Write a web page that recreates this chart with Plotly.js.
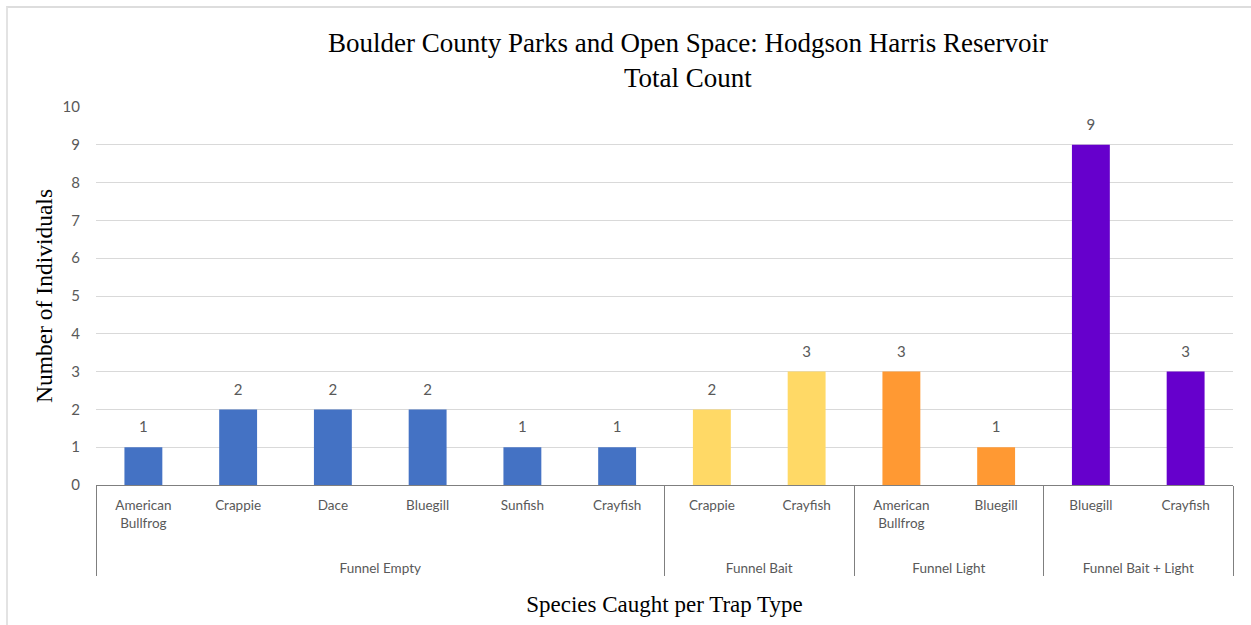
<!DOCTYPE html>
<html>
<head>
<meta charset="utf-8">
<script src="https://cdn.plot.ly/plotly-3.0.1.min.js"></script>
<style>
html,body{margin:0;padding:0;background:#fff;}
#wrap{position:relative;width:1251px;height:625px;overflow:hidden;}
#chart{width:1251px;height:625px;}
#frame{position:absolute;left:6px;top:6px;width:1300px;height:700px;border-top:2px solid #DDDDDD;border-left:2px solid #E3E3E3;pointer-events:none;}
</style>
</head>
<body>
<div id="wrap">
<div id="chart"></div>
<div id="frame"></div>
</div>
<script>
const trapTypes = ["Funnel Empty","Funnel Empty","Funnel Empty","Funnel Empty","Funnel Empty","Funnel Empty",
  "Funnel Bait","Funnel Bait","Funnel Light","Funnel Light","Funnel Bait + Light","Funnel Bait + Light"];
const species = ["American<br>Bullfrog","Crappie","Dace","Bluegill","Sunfish","Crayfish",
  "Crappie","Crayfish","American<br>Bullfrog","Bluegill","Bluegill","Crayfish"];
const counts = [1,2,2,2,1,1,2,3,3,1,9,3];
const groupColors = {"Funnel Empty":"#4472C4","Funnel Bait":"#FFD966","Funnel Light":"#FF9933","Funnel Bait + Light":"#6600CC"};
const barColors = trapTypes.map(t => groupColors[t]);

// pad species labels so the second level sits lower, as in the reference
const speciesLabels = species.map(s => s.includes("<br>") ? s + "<br>&nbsp;<br>&nbsp;" : s + "<br>&nbsp;<br>&nbsp;<br>&nbsp;");

const labelFont = "Lato, 'Open Sans', sans-serif";
const serif = "'Liberation Serif', 'Times New Roman', serif";

const bars = {
  type: "bar",
  x: [trapTypes, speciesLabels],
  y: counts,
  marker: {color: barColors},
  hoverinfo: "x+y"
};
const labels = {
  type: "scatter",
  mode: "markers+text",
  x: [trapTypes, speciesLabels],
  y: counts,
  text: counts.map(String),
  textposition: "top center",
  marker: {size: 16, color: "rgba(0,0,0,0)"},
  textfont: {family: labelFont, size: 15, color: "#595959"},
  cliponaxis: false,
  hoverinfo: "skip"
};

const layout = {
  width: 1251, height: 625,
  margin: {l: 96, r: 18, t: 107, b: 140},
  paper_bgcolor: "#fff", plot_bgcolor: "#fff",
  bargap: 0.6,
  showlegend: false,
  annotations: [{
    text: "Boulder County Parks and Open Space: Hodgson Harris Reservoir<br>Total Count",
    xref: "paper", yref: "paper", x: 0.5207, y: 1.124,
    xanchor: "center", yanchor: "middle", showarrow: false,
    font: {family: serif, size: 27, color: "#000"}
  }],
  xaxis: {
    type: "multicategory",
    range: [-0.5, 11.5], autorange: false,
    showline: true, linecolor: "#7F7F7F", linewidth: 1,
    showdividers: true, dividercolor: "#7F7F7F", dividerwidth: 1,
    ticks: "", showgrid: false,
    ticklabelstandoff: 8,
    tickfont: {family: labelFont, size: 13.5, color: "#595959"},
    title: {text: "Species Caught per Trap Type", standoff: 21,
      font: {family: serif, size: 23, color: "#000"}}
  },
  yaxis: {
    range: [0, 10], dtick: 1, tick0: 0,
    showgrid: true, gridcolor: "#D9D9D9", gridwidth: 1,
    zeroline: false, showline: false, ticks: "",
    tickfont: {family: labelFont, size: 15, color: "#595959"},
    ticklabelstandoff: 15,
    title: {text: "Number of Individuals", standoff: 3,
      font: {family: serif, size: 23.5, color: "#000"}}
  }
};

Plotly.newPlot("chart", [bars, labels], layout, {displayModeBar: false, staticPlot: true});
</script>
</body>
</html>
